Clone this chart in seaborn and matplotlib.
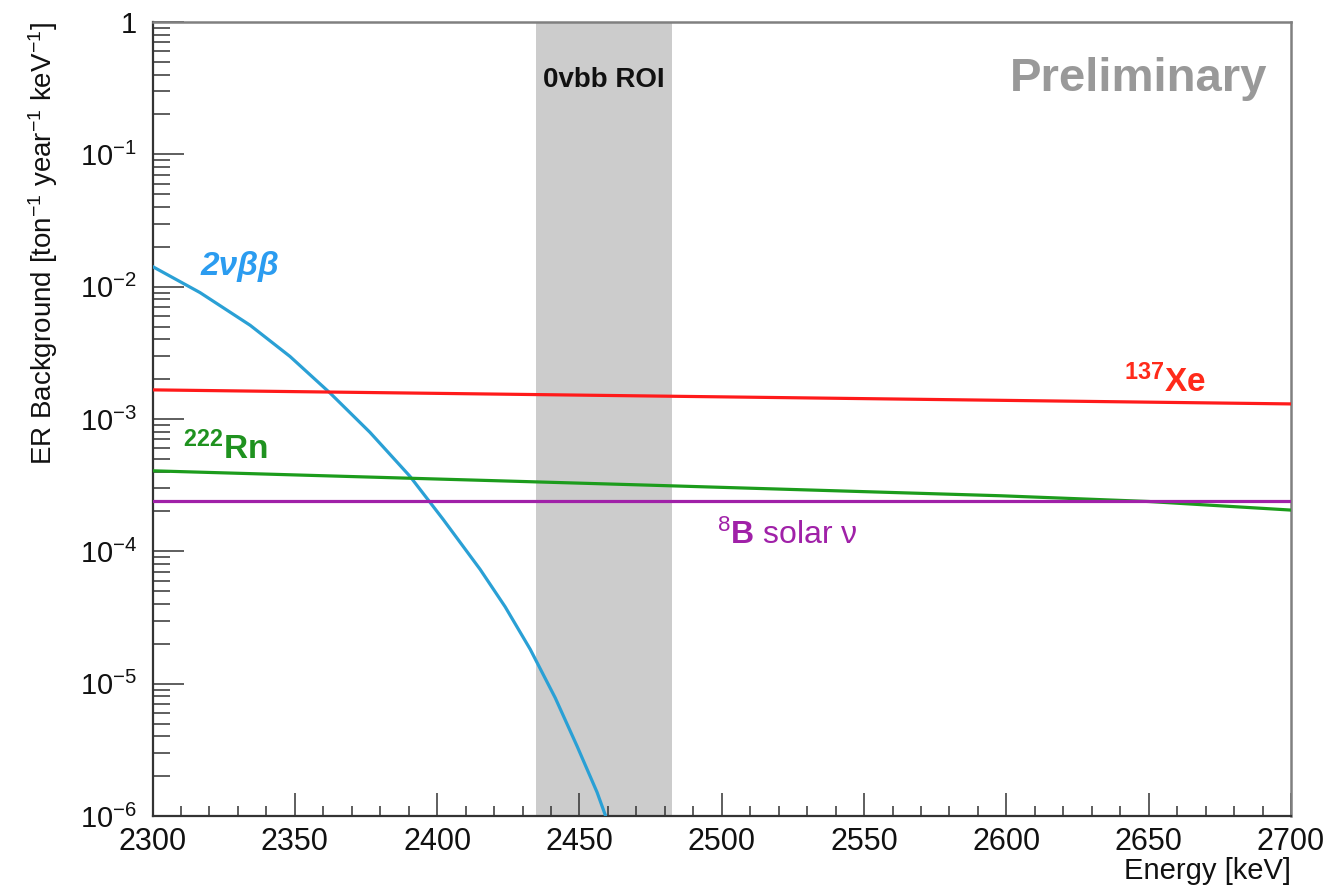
import numpy as np
import pandas as pd
import matplotlib
matplotlib.use("Agg")
import matplotlib.pyplot as plt
import matplotlib.ticker as mticker
import seaborn as sns

# ---------------- data ----------------
e_2vbb = [2300, 2316.7, 2334.3, 2348.3, 2362.4, 2376.4, 2390.5, 2402.1,
          2415.1, 2423.9, 2432.7, 2441.5, 2449.2, 2456.2, 2459.2]
v_2vbb = [1.42e-2, 9.02e-3, 5.11e-3, 2.97e-3, 1.57e-3, 7.93e-4, 3.68e-4,
          1.745e-4, 7.31e-5, 3.81e-5, 1.82e-5, 7.81e-6, 3.36e-6, 1.51e-6, 1.0e-6]

e_xe137 = [2300, 2500, 2700]
v_xe137 = [1.66e-3, 1.47e-3, 1.30e-3]

e_rn222 = [2300, 2422, 2475, 2598, 2650, 2700]
v_rn222 = [4.06e-4, 3.41e-4, 3.16e-4, 2.63e-4, 2.38e-4, 2.05e-4]

e_b8 = [2300, 2700]
v_b8 = [2.38e-4, 2.38e-4]

roi_lo, roi_hi = 2434.6, 2482.4

series_names = ["2vbb", "Xe137", "Rn222", "B8"]
palette = {"2vbb": "#2aa0d5", "Xe137": "#ff1a1a", "Rn222": "#1c9c1c", "B8": "#a021a8"}

frames = []
for name, e, v in [("2vbb", e_2vbb, v_2vbb), ("Xe137", e_xe137, v_xe137),
                   ("Rn222", e_rn222, v_rn222), ("B8", e_b8, v_b8)]:
    frames.append(pd.DataFrame({"Energy": e, "Rate": v, "series": name}))
df = pd.concat(frames, ignore_index=True)

# ---------------- style ----------------
sns.set_theme(style="ticks")
plt.rcParams["font.family"] = ["Liberation Sans", "DejaVu Sans"]
plt.rcParams["mathtext.fontset"] = "custom"
plt.rcParams["mathtext.rm"] = "Liberation Sans"
plt.rcParams["mathtext.it"] = "Liberation Sans:italic"
plt.rcParams["mathtext.bf"] = "Liberation Sans:bold"

fig = plt.figure(figsize=(13.35, 8.88), dpi=100)
ax = fig.add_axes([152.5 / 1335, 1 - 816 / 888, (1291 - 152.5) / 1335, (816 - 22) / 888])

ax.axvspan(roi_lo, roi_hi, color="#cccccc", lw=0, zorder=0)

sns.lineplot(data=df, x="Energy", y="Rate", hue="series", hue_order=series_names,
             palette=palette, legend=False, linewidth=2.3, estimator=None,
             sort=False, ax=ax, zorder=3)

ax.set_yscale("log")
ax.set_xlim(2300, 2700)
ax.set_ylim(1e-6, 1)

ax.xaxis.set_major_locator(mticker.MultipleLocator(50))
ax.xaxis.set_minor_locator(mticker.MultipleLocator(10))
ax.yaxis.set_major_locator(mticker.LogLocator(base=10, numticks=10))
ax.yaxis.set_minor_locator(mticker.LogLocator(base=10, subs=np.arange(2, 10), numticks=20))
ax.yaxis.set_minor_formatter(mticker.NullFormatter())


def yfmt(v, pos):
    n = int(round(np.log10(v)))
    if n == 0:
        return "1"
    return r"$10^{%d}$" % n


ax.yaxis.set_major_formatter(mticker.FuncFormatter(yfmt))

tick_col = "#333333"
ax.tick_params(axis="x", which="major", direction="in", length=16.5, width=1.1,
               color=tick_col, labelsize=22, pad=8, labelcolor="#111111")
ax.tick_params(axis="x", which="minor", direction="in", length=7.5, width=1.1, color=tick_col)
ax.tick_params(axis="y", which="major", direction="in", length=22, width=1.1,
               color=tick_col, labelsize=21, pad=11, labelcolor="#111111")
ax.tick_params(axis="y", which="minor", direction="in", length=12, width=1.1, color=tick_col)

for s in ["left", "bottom"]:
    ax.spines[s].set_color("#333333")
    ax.spines[s].set_linewidth(1.6)
for s in ["top", "right"]:
    ax.spines[s].set_color("#808080")
    ax.spines[s].set_linewidth(1.8)

ax.set_xlabel("Energy [keV]", fontsize=21, loc="right", color="#111111")
ax.xaxis.set_label_coords(1.0, -0.052)
ax.set_ylabel(r"ER Background [ton$^{-1}$ year$^{-1}$ keV$^{-1}$]", fontsize=20,
              loc="top", color="#111111")
ax.yaxis.set_label_coords(-0.081, 1.0)

# ---------------- annotations ----------------
ax.text(0.979, 0.928, "Preliminary", transform=ax.transAxes, ha="right", va="center",
        fontsize=34, fontweight="bold", color="#999999")
ax.text((roi_lo + roi_hi) / 2, 0.927, "0vbb ROI", transform=ax.get_xaxis_transform(),
        ha="center", va="center", fontsize=20, fontweight="bold", color="#111111")
ax.text(0.042, 0.692, "2νββ", transform=ax.transAxes, ha="left", va="center",
        fontsize=24, fontweight="bold", fontstyle="italic", color="#2b9cf0")
ax.text(0.027, 0.462, r"$\mathbf{^{222}Rn}$", transform=ax.transAxes, ha="left",
        va="center", fontsize=24, color="#1f921f")
ax.text(0.853, 0.547, r"$\mathbf{^{137}Xe}$", transform=ax.transAxes, ha="left",
        va="center", fontsize=24, color="#ff2a1a")
ax.text(0.496, 0.354, r"$^{8}\mathbf{B}$ solar ν", transform=ax.transAxes, ha="left",
        va="center", fontsize=23, color="#a021a8")

fig.savefig("out.png", dpi=100)
